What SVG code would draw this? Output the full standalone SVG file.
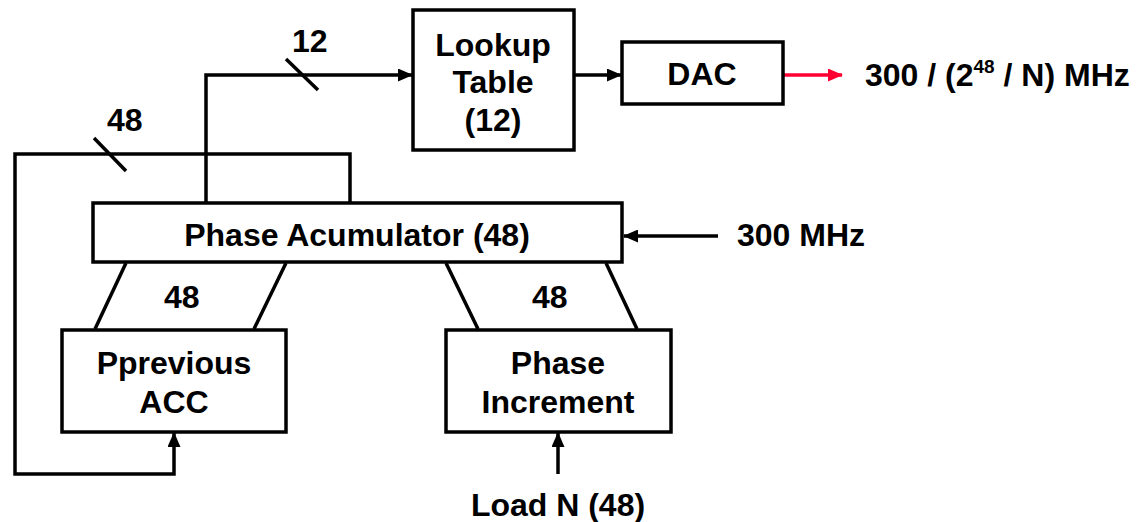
<svg xmlns="http://www.w3.org/2000/svg" width="1137" height="522" viewBox="0 0 1137 522">
<style>
.box{fill:#fff;stroke:#000;stroke-width:3.5}
.ln{fill:none;stroke:#000;stroke-width:3.5;stroke-linejoin:miter}
.t{font-family:"Liberation Sans",Arial,sans-serif;font-weight:bold;font-size:32px;fill:#000}
.c{text-anchor:middle}
</style>
<defs>
<marker id="ah" markerWidth="15" markerHeight="13" refX="14" refY="6.5" orient="auto" markerUnits="userSpaceOnUse"><path d="M0,0 L15,6.5 L0,13 Z" fill="#000"/></marker>
<marker id="ahr" markerWidth="15" markerHeight="13" refX="14" refY="6.5" orient="auto" markerUnits="userSpaceOnUse"><path d="M0,0 L15,6.5 L0,13 Z" fill="#ff0033"/></marker>
</defs>
<g id="connectors">
<polyline class="ln" points="206,202 206,75 412,75" marker-end="url(#ah)"/>
<line class="ln" x1="286" y1="59" x2="318" y2="90"/>
<polyline class="ln" points="350,202 350,154 15,154 15,474 174,474 174,433" marker-end="url(#ah)"/>
<line class="ln" x1="94" y1="138" x2="126" y2="171"/>
<line class="ln" x1="574" y1="75" x2="621" y2="75" marker-end="url(#ah)"/>
<line x1="784" y1="75" x2="842" y2="75" stroke="#ff0033" stroke-width="3.5" marker-end="url(#ahr)"/>
<line class="ln" x1="718" y1="236" x2="624" y2="236" marker-end="url(#ah)"/>
<line class="ln" x1="558" y1="474" x2="558" y2="433" marker-end="url(#ah)"/>
<line class="ln" x1="126" y1="263" x2="95" y2="329"/>
<line class="ln" x1="286" y1="263" x2="254" y2="329"/>
<line class="ln" x1="446" y1="263" x2="478" y2="329"/>
<line class="ln" x1="606" y1="263" x2="637" y2="329"/>
<text class="t" x="292" y="52">12</text>
<text class="t" x="107" y="131">48</text>
<text class="t" x="164" y="308">48</text>
<text class="t" x="532" y="308">48</text>
<text class="t" x="737" y="246">300 MHz</text>
<text class="t" x="865" y="86">300 / (2<tspan font-size="19" dy="-13">48</tspan><tspan dy="13"> / N) MHz</tspan></text>
<text class="t c" x="558" y="516">Load N (48)</text>
</g>
<g id="lookup">
<rect class="box" x="413" y="10" width="161" height="140"/>
<text class="t c" x="493" y="56">Lookup</text>
<text class="t c" x="493" y="93">Table</text>
<text class="t c" x="493" y="131">(12)</text>
</g>
<g id="dac">
<rect class="box" x="622" y="42" width="161" height="62"/>
<text class="t c" x="702" y="85">DAC</text>
</g>
<g id="phase-acc">
<rect class="box" x="93" y="203" width="529" height="59"/>
<text class="t c" x="357" y="246">Phase Acumulator (48)</text>
</g>
<g id="prev-acc">
<rect class="box" x="62" y="330" width="224" height="102"/>
<text class="t c" x="174" y="374">Pprevious</text>
<text class="t c" x="174" y="413">ACC</text>
</g>
<g id="phase-inc">
<rect class="box" x="446" y="330" width="225" height="102"/>
<text class="t c" x="558" y="374">Phase</text>
<text class="t c" x="558" y="413">Increment</text>
</g>
</svg>
